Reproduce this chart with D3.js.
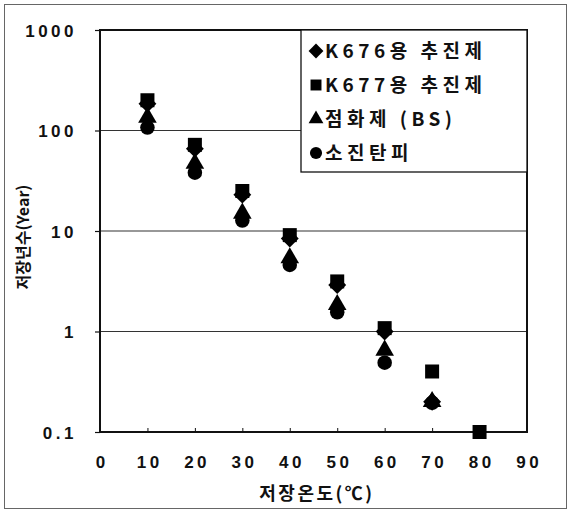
<!DOCTYPE html>
<html>
<head>
<meta charset="utf-8">
<script src="https://cdn.jsdelivr.net/npm/d3@7"></script>
<style>
  body { margin: 0; background: #fff; }
  svg { display: block; }
  text { fill: #111; }
</style>
</head>
<body>
<svg id="chart" width="571" height="513"></svg>
<script>
// Storage temperature (°C) and estimated storage life (years)
const temperatures = [10, 20, 30, 40, 50, 60, 70, 80];
const k676Propellant = [185, 66, 23, 8.4, 2.9, 1.0, 0.2, null];
const k677Propellant = [200, 72, 25, 9.1, 3.15, 1.08, 0.4, 0.1];
const igniterBS = [135, 47, 15, 5.4, 1.85, 0.65, 0.2, null];
const combustibleCase = [107, 38, 12.7, 4.6, 1.55, 0.49, 0.195, null];

const seriesNames = ["K676용 추진제", "K677용 추진제", "점화제 (BS)", "소진탄피"];
const xTicks = [0, 10, 20, 30, 40, 50, 60, 70, 80, 90];
const yTicks = [0.1, 1, 10, 100, 1000];
const yTickLabels = ["0.1", "1", "10", "100", "1000"];

// diamond drawn as a square turned 45 degrees
const squareDiamond = {
  draw(context, size) {
    const r = Math.sqrt(size) / Math.SQRT2;
    context.moveTo(0, -r);
    context.lineTo(r, 0);
    context.lineTo(0, r);
    context.lineTo(-r, 0);
    context.closePath();
  }
};

const series = [
  { name: seriesNames[0], values: k676Propellant, symbol: squareDiamond, size: 160, legendSize: 110 },
  { name: seriesNames[1], values: k677Propellant, symbol: d3.symbolSquare, size: 196, legendSize: 120 },
  { name: seriesNames[2], values: igniterBS, symbol: d3.symbolTriangle, size: 150, legendSize: 95 },
  { name: seriesNames[3], values: combustibleCase, symbol: d3.symbolCircle, size: 165, legendSize: 115 }
];

const svg = d3.select("#chart");
const W = 571, H = 513;
const plot = { left: 100, top: 30, right: 527, bottom: 432 };

const x = d3.scaleLinear().domain([0, 90]).range([plot.left, plot.right]);
const y = d3.scaleLog().domain([0.1, 1000]).range([plot.bottom, plot.top]);

const numFont = "'Liberation Sans', Arial, sans-serif";
const krFont = "'Noto Sans CJK KR', 'Liberation Sans', sans-serif";

// outer frame
svg.append("rect")
  .attr("x", 4.5).attr("y", 4.5).attr("width", W - 9).attr("height", H - 9)
  .attr("fill", "none").attr("stroke", "#666").attr("stroke-width", 1);

// horizontal gridlines at each decade
svg.append("g").selectAll("line")
  .data(yTicks.filter(v => v > 0.1 && v < 1000))
  .join("line")
  .attr("x1", plot.left).attr("x2", plot.right)
  .attr("y1", d => y(d)).attr("y2", d => y(d))
  .attr("stroke", "#333").attr("stroke-width", 1.2);

// y axis
const yAxis = d3.axisLeft(y).tickValues(yTicks)
  .tickFormat((d, i) => yTickLabels[i]).tickSize(5).tickPadding(18);
const gy = svg.append("g").attr("transform", `translate(${plot.left},0)`).call(yAxis);
gy.select(".domain").remove();
gy.selectAll(".tick line").attr("stroke", "#111").attr("stroke-width", 1.2);
gy.selectAll(".tick text")
  .attr("font-family", numFont).attr("font-size", 17).attr("font-weight", "bold")
  .attr("letter-spacing", 3.5).attr("fill", "#111").attr("dy", "0.36em");

// x axis
const xAxis = d3.axisBottom(x).tickValues(xTicks).tickSize(-4).tickPadding(24);
const gx = svg.append("g").attr("transform", `translate(0,${plot.bottom})`).call(xAxis);
gx.select(".domain").remove();
gx.selectAll(".tick line").attr("stroke", "#111").attr("stroke-width", 1);
gx.selectAll(".tick text")
  .attr("font-family", numFont).attr("font-size", 17).attr("font-weight", "bold")
  .attr("letter-spacing", 3.5).attr("fill", "#111").attr("dx", "0.1em");

// plot frame
svg.append("rect")
  .attr("x", plot.left).attr("y", plot.top)
  .attr("width", plot.right - plot.left).attr("height", plot.bottom - plot.top)
  .attr("fill", "none").attr("stroke", "#111").attr("stroke-width", 2);

// data markers (clipped to the plot area); diamonds sit underneath the squares
svg.append("clipPath").attr("id", "plotClip").append("rect")
  .attr("x", plot.left).attr("y", plot.top - 8)
  .attr("width", plot.right - plot.left + 8).attr("height", plot.bottom - plot.top + 16);

const markers = svg.append("g").attr("clip-path", "url(#plotClip)");
series.forEach(s => {
  const pts = temperatures.map((t, i) => ({ t, v: s.values[i] })).filter(d => d.v != null);
  markers.append("g").selectAll("path")
    .data(pts)
    .join("path")
    .attr("transform", d => `translate(${x(d.t)},${y(d.v)})`)
    .attr("d", d3.symbol().type(s.symbol).size(s.size))
    .attr("fill", "#000");
});

// legend
const legend = svg.append("g");
legend.append("rect")
  .attr("x", 301).attr("y", 30).attr("width", 226).attr("height", 142)
  .attr("fill", "#fff").attr("stroke", "#111").attr("stroke-width", 1.3);
const legendRows = [51, 85, 119, 153];
series.forEach((s, i) => {
  const row = legend.append("g").attr("transform", `translate(316,${legendRows[i]})`);
  row.append("path")
    .attr("d", d3.symbol().type(s.symbol).size(s.legendSize))
    .attr("fill", "#000");
  row.append("text")
    .attr("x", 9).attr("y", 0).attr("dy", "0.36em")
    .attr("font-family", krFont).attr("font-size", 19).attr("font-weight", "bold")
    .attr("letter-spacing", 4.5)
    .text(s.name);
});

// axis titles
svg.append("text")
  .attr("x", 317).attr("y", 494).attr("dy", "0.36em")
  .attr("text-anchor", "middle")
  .attr("font-family", krFont).attr("font-size", 18).attr("font-weight", "bold")
  .attr("letter-spacing", 2.5)
  .text("저장온도(℃)");

svg.append("text")
  .attr("transform", "translate(23,237) rotate(-90)")
  .attr("text-anchor", "middle").attr("dy", "0.36em")
  .attr("font-family", krFont).attr("font-size", 16).attr("font-weight", "bold")
  .text("저장년수(Year)");
</script>
</body>
</html>
